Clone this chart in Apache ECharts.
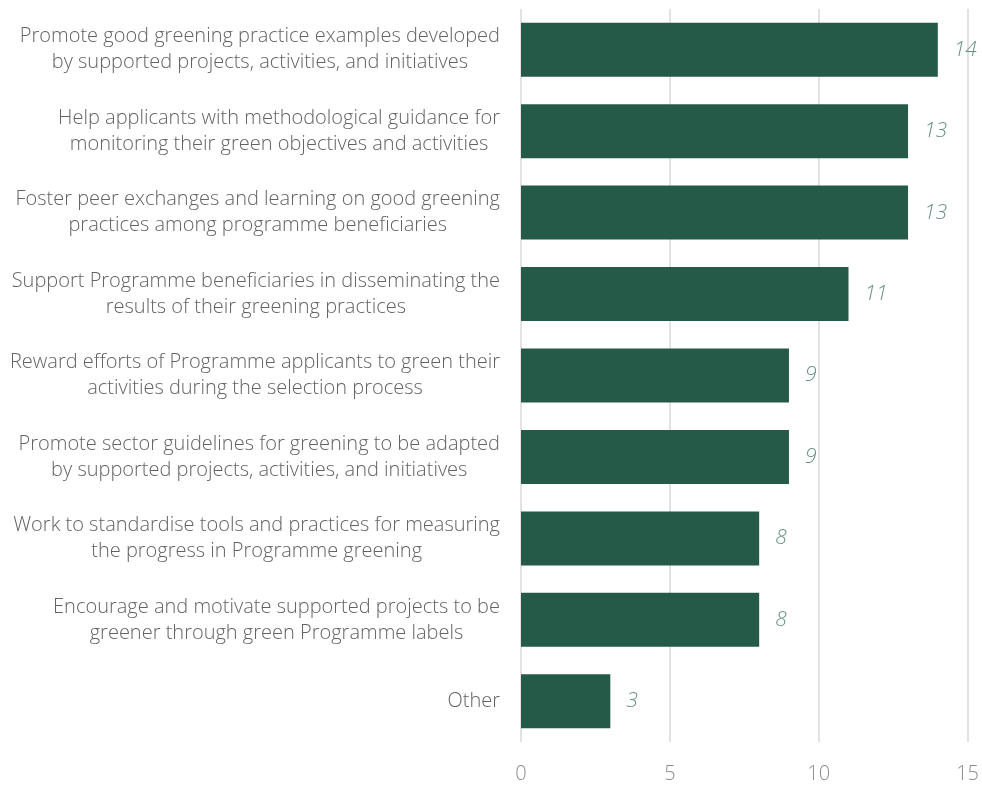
<!DOCTYPE html>
<html>
<head>
<meta charset="utf-8">
<script src="https://cdn.jsdelivr.net/npm/echarts@6/dist/echarts.min.js"></script>
<style>
  html, body { margin: 0; padding: 0; background: #ffffff; }
  #chart { width: 982px; height: 786px; }
</style>
</head>
<body>
<div id="chart"></div>
<script>
// Greening support measures, listed top to bottom
const categories = [
  'Promote good greening practice examples developed\nby supported projects, activities, and initiatives',
  'Help applicants with methodological guidance for\nmonitoring their green objectives and activities',
  'Foster peer exchanges and learning on good greening\npractices among programme beneficiaries',
  'Support Programme beneficiaries in disseminating the\nresults of their greening practices',
  'Reward efforts of Programme applicants to green their\nactivities during the selection process',
  'Promote sector guidelines for greening to be adapted\nby supported projects, activities, and initiatives',
  'Work to standardise tools and practices for measuring\nthe progress in Programme greening',
  'Encourage and motivate supported projects to be\ngreener through green Programme labels',
  'Other'
];
const counts = [14, 13, 13, 11, 9, 9, 8, 8, 3];
const axisTicks = [0, 5, 10, 15];

const chart = echarts.init(document.getElementById('chart'));
chart.setOption({
  animation: false,
  grid: { left: 521, right: 14, top: 9, bottom: 44, containLabel: false },
  xAxis: {
    type: 'value',
    min: axisTicks[0],
    max: axisTicks[axisTicks.length - 1],
    interval: axisTicks[1] - axisTicks[0],
    axisLine: { show: false },
    axisTick: { show: false },
    splitLine: { show: true, lineStyle: { color: '#d9d9d9', width: 1.5 } },
    axisLabel: {
      color: '#8c8c8c',
      fontFamily: 'Open Sans',
      fontWeight: 300,
      fontSize: 20,
      margin: 22
    }
  },
  yAxis: {
    type: 'category',
    inverse: true,
    data: categories,
    axisLine: { show: false },
    axisTick: { show: false },
    axisLabel: {
      align: 'right',
      margin: 21,
      // each line is centred within the label block
      formatter: (v) => v.split('\n').map((s) => '{c|' + s + '}').join('\n'),
      rich: {
        c: {
          align: 'center',
          color: '#636363',
          fontFamily: 'Open Sans',
          fontWeight: 300,
          fontSize: 20,
          lineHeight: 26
        }
      }
    }
  },
  series: [{
    type: 'bar',
    data: counts,
    barWidth: 54,
    itemStyle: { color: '#265a48' },
    label: {
      show: true,
      position: 'right',
      distance: 16,
      color: '#6a9283',
      fontFamily: 'Open Sans',
      fontStyle: 'italic',
      fontWeight: 300,
      fontSize: 21
    }
  }]
});
</script>
</body>
</html>
